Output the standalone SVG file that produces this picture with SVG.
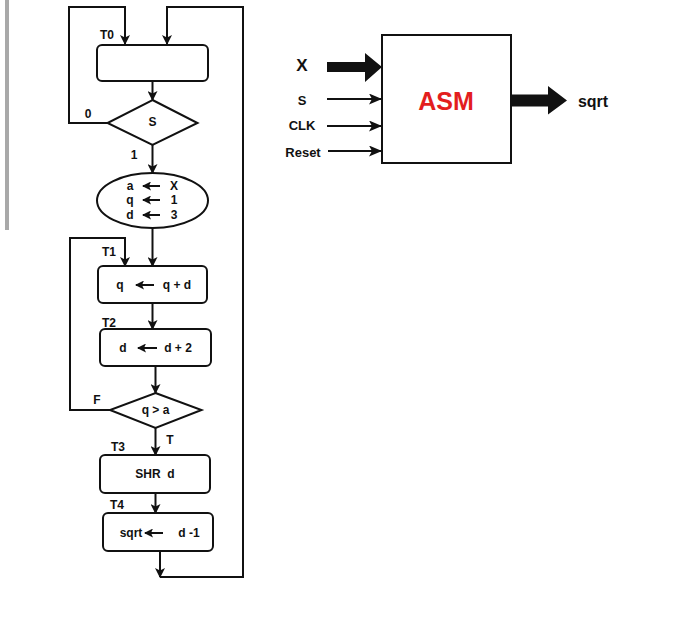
<svg xmlns="http://www.w3.org/2000/svg" width="700" height="635" viewBox="0 0 700 635">
<style>
text{font-family:"Liberation Sans",Arial,sans-serif;font-weight:bold;fill:#111;dominant-baseline:central;text-anchor:middle}
.fc{font-size:12px}
.shape{fill:#fff;stroke:#111;stroke-width:2}
.arr{fill:none;stroke:#111;stroke-width:2;marker-end:url(#ah)}
.sarr{fill:none;stroke:#111;stroke-width:2.2;marker-end:url(#sh)}
.iarr{fill:none;stroke:#111;stroke-width:2;marker-end:url(#ih)}
</style>
<defs>
<marker id="ah" viewBox="0 0 10 10" refX="9" refY="5" markerWidth="10" markerHeight="10" markerUnits="userSpaceOnUse" orient="auto"><path d="M0,0 L10,5 L0,10 L2.5,5 z" fill="#111"/></marker>
<marker id="sh" viewBox="0 0 13 11" refX="12" refY="5.5" markerWidth="13" markerHeight="11" markerUnits="userSpaceOnUse" orient="auto"><path d="M0,0 L13,5.5 L0,11 L3,5.5 z" fill="#111"/></marker>
<marker id="ih" viewBox="0 0 9 9" refX="8" refY="4.5" markerWidth="9" markerHeight="9" markerUnits="userSpaceOnUse" orient="auto"><path d="M0,0 L9,4.5 L0,9 L2,4.5 z" fill="#111"/></marker>
</defs>
<rect x="5" y="0" width="4" height="230" fill="#a9a9a9"/>
<g id="connectors">
<path class="arr" d="M108,123 H69 V7 H125 V44"/>
<path class="arr" d="M160,577 H243 V7 H167 V44"/>
<path class="arr" d="M152.5,81 V100"/>
<path class="arr" d="M152.5,145 V173"/>
<path class="arr" d="M152.5,228 V266"/>
<path class="arr" d="M110,410 H70 V238 H125 V266"/>
<path class="arr" d="M152.5,303 V329"/>
<path class="arr" d="M155.5,366 V393"/>
<path class="arr" d="M155.5,428 V455"/>
<path class="arr" d="M155.5,493 V513"/>
<path class="arr" d="M160,551 V577"/>
</g>
<g id="labels">
<text class="fc" x="107" y="35">T0</text>
<text class="fc" x="88" y="114">0</text>
<text class="fc" x="134" y="155">1</text>
<text class="fc" x="109" y="252">T1</text>
<text class="fc" x="109" y="323">T2</text>
<text class="fc" x="97" y="400">F</text>
<text class="fc" x="170" y="440">T</text>
<text class="fc" x="118" y="447">T3</text>
<text class="fc" x="117" y="505">T4</text>
</g>
<g id="start"><rect class="shape" x="97" y="45" width="111" height="36" rx="5"/></g>
<g id="decS"><polygon class="shape" points="152.5,100 197.5,123 152.5,145 107.5,123"/><text class="fc" x="152.5" y="122">S</text></g>
<g id="init">
<ellipse class="shape" cx="152.5" cy="200.5" rx="55.5" ry="27.5"/>
<text class="fc" x="130" y="186">a</text><path class="iarr" d="M160,186 H143"/><text class="fc" x="174" y="186">X</text>
<text class="fc" x="130" y="200">q</text><path class="iarr" d="M160,200 H143"/><text class="fc" x="174" y="200">1</text>
<text class="fc" x="130" y="215">d</text><path class="iarr" d="M160,215 H143"/><text class="fc" x="174" y="215">3</text>
</g>
<g id="qbox"><rect class="shape" x="98" y="266" width="109" height="37" rx="5"/>
<text class="fc" x="120" y="285">q</text><path class="iarr" d="M154,285 H136"/><text class="fc" x="177" y="285">q + d</text></g>
<g id="dbox"><rect class="shape" x="100" y="329" width="111" height="37" rx="5"/>
<text class="fc" x="123" y="348">d</text><path class="iarr" d="M157,348 H138"/><text class="fc" x="178" y="348">d + 2</text></g>
<g id="decQ"><polygon class="shape" points="155.5,393 201.5,410 155.5,428 110,410"/><text class="fc" x="155.5" y="410">q &gt; a</text></g>
<g id="shr"><rect class="shape" x="100" y="455" width="110" height="38" rx="5"/><text class="fc" x="155" y="474" xml:space="preserve">SHR  d</text></g>
<g id="sqrtbox"><rect class="shape" x="103" y="513" width="110" height="38" rx="5"/>
<text class="fc" x="131" y="533">sqrt</text><path class="iarr" d="M163,533 H145"/><text class="fc" x="189" y="533">d -1</text></g>
<g id="asm">
<rect x="382" y="35" width="129" height="128" fill="#fff" stroke="#111" stroke-width="2"/>
<text x="446" y="101" style="font-size:25px;fill:#e31e1e">ASM</text>
</g>
<g id="io">
<polygon points="327,62 365,62 365,53 382,67 365,82 365,72 327,72" fill="#111"/>
<text x="302" y="65" style="font-size:17px">X</text>
<path class="sarr" d="M327,99 H381"/>
<text x="302" y="100" style="font-size:13px">S</text>
<path class="sarr" d="M327,126 H381"/>
<text x="302" y="125" style="font-size:13px">CLK</text>
<path class="sarr" d="M328,151 H381"/>
<text x="303" y="152" style="font-size:13px">Reset</text>
<polygon points="511,94.5 548,94.5 548,86 567,100.5 548,114.5 548,106.5 511,106.5" fill="#111"/>
<text x="593" y="101" style="font-size:16px">sqrt</text>
</g>
</svg>
